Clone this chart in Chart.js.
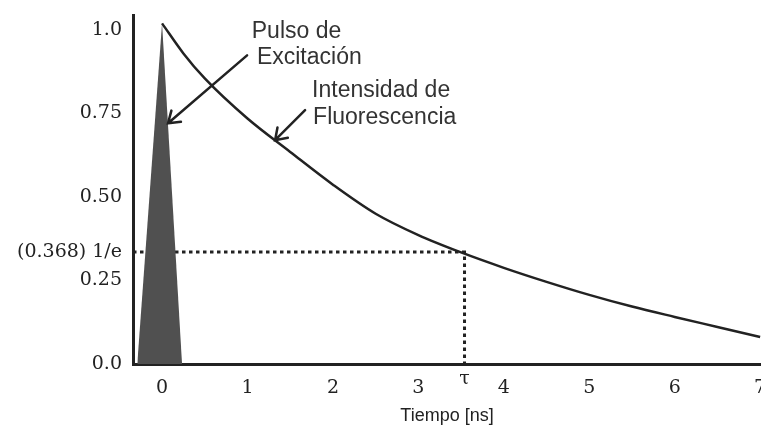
<!DOCTYPE html>
<html>
<head>
<meta charset="utf-8">
<script src="https://cdn.jsdelivr.net/npm/chart.js@4.4.0/dist/chart.umd.min.js"></script>
<style>
  html, body { margin: 0; padding: 0; background: #fff; }
</style>
</head>
<body>
<canvas id="decay" width="761" height="427"></canvas>
<script>
// --- data ---
const timeNs    = [0, 0.25, 0.5, 1.0, 1.5, 2.0, 2.5, 3.0, 3.5, 4.0, 4.5, 5.0, 5.5, 6.0, 6.5, 7.0];
const intensity = [1.02, 0.93, 0.855, 0.735, 0.635, 0.537, 0.45, 0.386, 0.334, 0.288, 0.246, 0.207, 0.172, 0.141, 0.111, 0.081];

const pulseTime  = [-0.29, 0, 0.234];
const pulseLevel = [0, 1.02, 0];

const tau      = 3.54;
const tauLevel = 0.335;

const xTicks = [0, 1, 2, 3, 4, 5, 6, 7];
const yTicks = [0, 0.25, 0.335, 0.5, 0.75, 1.0];
const yTickLabels = ['0.0', '0.25', '(0.368) 1/e', '0.50', '0.75', '1.0'];

const X_MIN = -0.34, X_MAX = 7.01;
const INK = '#222';
const serif = { family: '"DejaVu Serif", serif', size: 19 };

const toPts = (xs, ys) => xs.map((x, i) => ({ x: x, y: ys[i] }));

// arrows + captions, placed in data units
const annotate = {
    id: 'annotate',
    afterDatasetsDraw(chart) {
        const { ctx, scales: { x, y }, chartArea } = chart;
        const px = v => x.getPixelForValue(v);
        const py = v => y.getPixelForValue(v);

        function arrow(t, h) {
            const x1 = px(t[0]), y1 = py(t[1]), x2 = px(h[0]), y2 = py(h[1]);
            const a = Math.atan2(y2 - y1, x2 - x1);
            ctx.save();
            ctx.strokeStyle = INK;
            ctx.lineWidth = 2.5;
            ctx.lineCap = 'round';
            ctx.beginPath();
            ctx.moveTo(x1, y1);
            ctx.lineTo(x2, y2);
            ctx.moveTo(x2 - 13 * Math.cos(a - 0.6), y2 - 13 * Math.sin(a - 0.6));
            ctx.lineTo(x2, y2);
            ctx.lineTo(x2 - 13 * Math.cos(a + 0.6), y2 - 13 * Math.sin(a + 0.6));
            ctx.stroke();
            ctx.restore();
        }
        arrow([0.995, 0.924], [0.07, 0.721]);
        arrow([1.674, 0.760], [1.323, 0.670]);

        ctx.save();
        ctx.fillStyle = '#333';
        ctx.font = '23px "Liberation Sans", Arial, sans-serif';
        ctx.textAlign = 'left';
        ctx.textBaseline = 'middle';
        ctx.fillText('Pulso de', px(1.05), py(0.996));
        ctx.fillText('Excitación', px(1.11), py(0.918));
        ctx.fillText('Intensidad de', px(1.756), py(0.819));
        ctx.fillText('Fluorescencia', px(1.768), py(0.739));

        // tau label sits a little higher than the numeric ticks
        ctx.fillStyle = INK;
        ctx.font = '19px "DejaVu Serif", serif';
        ctx.textAlign = 'center';
        ctx.fillText('τ', px(tau), chartArea.bottom + 15);
        ctx.restore();
    }
};

new Chart(document.getElementById('decay'), {
    type: 'scatter',
    data: {
        datasets: [
            {
                label: 'Pulso de Excitación',
                data: toPts(pulseTime, pulseLevel),
                showLine: true,
                fill: 'origin',
                backgroundColor: '#505050',
                borderWidth: 0,
                pointRadius: 0,
                tension: 0
            },
            {
                label: 'Intensidad de Fluorescencia',
                data: toPts(timeNs, intensity),
                showLine: true,
                borderColor: INK,
                borderWidth: 2.5,
                pointRadius: 0,
                cubicInterpolationMode: 'monotone'
            },
            {
                label: '1/e',
                data: [{ x: X_MIN, y: tauLevel }, { x: tau, y: tauLevel }, { x: tau, y: 0 }],
                showLine: true,
                borderColor: INK,
                borderWidth: 3,
                borderDash: [3.5, 3.5],
                pointRadius: 0,
                tension: 0
            }
        ]
    },
    options: {
        responsive: false,
        animation: false,
        devicePixelRatio: 1,
        layout: { padding: { top: 15, left: 0, right: 0, bottom: 0 } },
        plugins: { legend: { display: false }, tooltip: { enabled: false } },
        scales: {
            x: {
                type: 'linear',
                min: X_MIN, max: X_MAX,
                afterBuildTicks: s => { s.ticks = xTicks.map(v => ({ value: v })); },
                afterFit: s => { s.paddingLeft = 0; s.paddingRight = 0; s.height = 63; },
                ticks: { font: serif, color: INK, padding: 13, autoSkip: false, maxRotation: 0 },
                grid: { display: false, drawTicks: false },
                border: { display: true, color: INK, width: 3 },
                title: {
                    display: true,
                    text: 'Tiempo [ns]',
                    color: INK,
                    font: { family: '"Liberation Sans", Arial, sans-serif', size: 18 },
                    padding: { top: 4, bottom: 0 }
                }
            },
            y: {
                min: 0, max: 1.045,
                afterBuildTicks: s => { s.ticks = yTicks.map(v => ({ value: v })); },
                afterFit: s => { s.width = 133; s.paddingTop = 0; s.paddingBottom = 0; },
                ticks: {
                    font: serif, color: INK, padding: 11, autoSkip: false,
                    callback: (v, i) => yTickLabels[i]
                },
                grid: { display: false, drawTicks: false },
                border: { display: true, color: INK, width: 3 }
            }
        }
    },
    plugins: [annotate]
});
</script>
</body>
</html>
